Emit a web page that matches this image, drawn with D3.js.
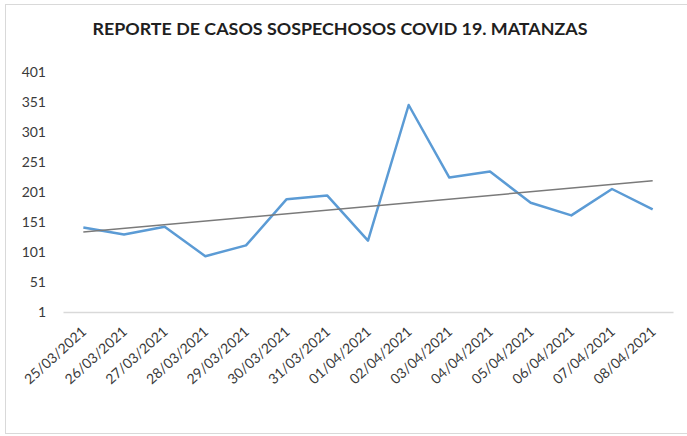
<!DOCTYPE HTML>
<html lang="es">
<head>
<meta charset="utf-8">
<title>Reporte de casos sospechosos COVID 19. Matanzas</title>
<style>
html, body {
    margin: 0;
    padding: 0;
    background: #fff;
 }

svg text {
    font-family: Lato, "Open Sans", sans-serif;
 }

.y-label, .x-label {
    fill: #3a3a3a;
    font-size: 14px;
 }

.title {
    fill: #1f1f1f;
    font-weight: bold;
 }
</style>
</head>
<body>

<div id="chart"></div>

<script src="https://cdn.jsdelivr.net/npm/d3@7"></script>
<script>
(function() {
  'use strict';

// Data
const fechas = [
  '25/03/2021', '26/03/2021', '27/03/2021', '28/03/2021', '29/03/2021',
  '30/03/2021', '31/03/2021', '01/04/2021', '02/04/2021', '03/04/2021',
  '04/04/2021', '05/04/2021', '06/04/2021', '07/04/2021', '08/04/2021'
];
const casos = [142, 130, 143, 94, 112, 189, 195, 120, 346, 225, 235, 183, 162, 206, 172];
const yTicks = [1, 51, 101, 151, 201, 251, 301, 351, 401];
const titulo = 'REPORTE DE CASOS SOSPECHOSOS COVID 19. MATANZAS';

// Layout
const width = 687;
const height = 436;
const plot = { left: 63, right: 673, top: 72, bottom: 312 };

const svg = d3.select('#chart')
  .append('svg')
  .attr('width', width)
  .attr('height', height);

// chart frame
svg.append('rect')
  .attr('x', 5.5)
  .attr('y', 4.5)
  .attr('width', width)
  .attr('height', 429)
  .attr('fill', '#fff')
  .attr('stroke', '#d9d9d9')
  .attr('stroke-width', 1);

// title, shrunk to the width it has in the picture
const title = svg.append('text')
  .attr('class', 'title')
  .attr('x', 340)
  .attr('y', 35)
  .attr('text-anchor', 'middle')
  .style('font-size', '18px')
  .text(titulo);
const tw = title.node().getComputedTextLength();
title.style('font-size', (18 * 495 / tw).toFixed(2) + 'px');

// Scales
const x = d3.scaleBand()
  .domain(fechas)
  .range([plot.left, plot.right]);

const y = d3.scaleLinear()
  .domain([yTicks[0], yTicks[yTicks.length - 1]])
  .range([plot.bottom, plot.top]);

// y axis: labels only
const yAxis = svg.append('g')
  .attr('transform', 'translate(46,0)')
  .call(d3.axisLeft(y).tickValues(yTicks).tickSize(0).tickPadding(0).tickFormat(d3.format('d')));
yAxis.select('.domain').remove();
yAxis.selectAll('text')
  .attr('class', 'y-label')
  .attr('font-family', null)
  .attr('font-size', null)
  .attr('fill', null);

// x axis: light baseline and slanted dates
const xAxis = svg.append('g')
  .attr('transform', 'translate(0,' + plot.bottom + ')')
  .call(d3.axisBottom(x).tickSize(0).tickPadding(0));
xAxis.select('.domain')
  .attr('stroke', '#d9d9d9')
  .attr('stroke-width', 1.5);
xAxis.selectAll('text')
  .attr('class', 'x-label')
  .attr('font-family', null)
  .attr('font-size', null)
  .attr('fill', null)
  .attr('text-anchor', 'end')
  .attr('dy', null)
  .attr('y', 0)
  .attr('transform', 'translate(4,21) rotate(-42)');

// series line
const cx = d => x(d) + x.bandwidth() / 2;

const line = d3.line()
  .x((d, i) => cx(fechas[i]))
  .y(d => y(d));

svg.append('path')
  .datum(casos)
  .attr('fill', 'none')
  .attr('stroke', '#5b9bd5')
  .attr('stroke-width', 2.5)
  .attr('stroke-linejoin', 'round')
  .attr('d', line);

// linear trendline (least squares over the category index)
const n = casos.length;
const mx = (n - 1) / 2;
const my = d3.mean(casos);
let sxy = 0, sxx = 0;
casos.forEach((v, i) => { sxy += (i - mx) * (v - my); sxx += (i - mx) * (i - mx); });
const slope = sxy / sxx;
const trend = casos.map((v, i) => my + slope * (i - mx));

svg.append('path')
  .datum([trend[0], trend[n - 1]])
  .attr('fill', 'none')
  .attr('stroke', '#7a7a7a')
  .attr('stroke-width', 1.5)
  .attr('d', d3.line()
    .x((d, i) => cx(fechas[i === 0 ? 0 : n - 1]))
    .y(d => y(d)));

}());
</script>

</body>
</html>
